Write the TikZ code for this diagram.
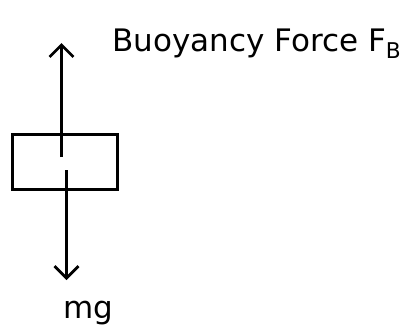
\documentclass[tikz,border=0pt]{standalone}
\usepackage{fontspec}
\setmainfont{DejaVu Sans}
\usepackage{tikz}
\usetikzlibrary{arrows.meta,positioning}

\begin{document}
\begin{tikzpicture}[
    x=1pt, y=-1pt,
    block/.style={rectangle, draw, line width=2.2pt, minimum width=105pt, minimum height=55pt},
    force/.style={-{Straight Barb[length=12pt,width=24pt]}, line width=2.8pt},
    lbl/.style={font=\fontsize{31}{36}\selectfont, inner sep=0pt}
]
    \useasboundingbox (0,0) rectangle (420,333);
    \node[block] (box) at (65,162) {};
    \coordinate (up0) at (61.5,157);
    \coordinate (up1) at (61.5,43);
    \coordinate (dn0) at (66.5,170);
    \coordinate (dn1) at (66.5,280);
    \node[lbl, anchor=base west] (fb) at (112,51) {Buoyancy Force F\textsubscript{B}};
    \node[lbl, anchor=base] (mg) at (88,318) {mg};

    \draw[force] (up0) -- (up1);
    \draw[force] (dn0) -- (dn1);
\end{tikzpicture}
\end{document}
